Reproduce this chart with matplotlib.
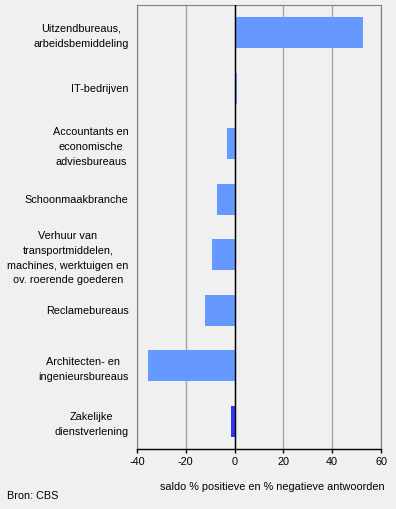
import matplotlib.pyplot as plt

categories = ['Uitzendbureaus,\narbeidsbemiddeling', 'IT-bedrijven',
              'Accountants en\neconomische\nadviesbureaus', 'Schoonmaakbranche',
              'Verhuur van\ntransportmiddelen,\nmachines, werktuigen en\nov. roerende goederen',
              'Reclamebureaus', 'Architecten- en\ningenieursbureaus',
              'Zakelijke\ndienstverlening']
values = [52.7, 0.9, -3.3, -7.1, -9.1, -12.3, -35.3, -1.3]
bar_colors = ['#6699ff'] * 7 + ['#3333ff']
xticks = [-40, -20, 0, 20, 40, 60]

plt.rcParams['font.family'] = ['Liberation Sans', 'DejaVu Sans']
bg = '#f0f0f0'
fs = 7.8

fig = plt.figure(figsize=(3.96, 5.09), dpi=100, facecolor=bg)
ax = fig.add_axes([137/396, 1 - 449/509, 244/396, 444/509], facecolor=bg)

ypos = list(range(len(categories)))
ax.barh(ypos, values, height=0.56, color=bar_colors, zorder=3)
ax.axvline(0, color='black', linewidth=1.0, zorder=4)

ax.set_xlim(-40, 60)
ax.set_ylim(len(categories) - 0.5, -0.5)
ax.set_xticks(xticks)
ax.set_xticklabels([str(t) for t in xticks], fontsize=fs)
ax.xaxis.grid(True, color='#a6a6a6', linewidth=1, zorder=1)
ax.set_axisbelow(True)

ax.set_yticks(ypos)
ax.set_yticklabels(categories, fontsize=fs, multialignment='center', linespacing=1.6)
ax.tick_params(axis='y', length=0, pad=6)
ax.tick_params(axis='x', length=3, width=1, color='black', pad=3)

for side in ['left', 'top', 'right']:
    ax.spines[side].set_color('#808080')
ax.spines['bottom'].set_color('black')
ax.spines['bottom'].set_linewidth(1)

fig.text(385/396, 1 - 487/509, 'saldo % positieve en % negatieve antwoorden',
         ha='right', va='center', fontsize=fs)
fig.text(7/396, 1 - 496/509, 'Bron: CBS', ha='left', va='center', fontsize=fs)

fig.savefig('out.png', dpi=100, facecolor=bg)
